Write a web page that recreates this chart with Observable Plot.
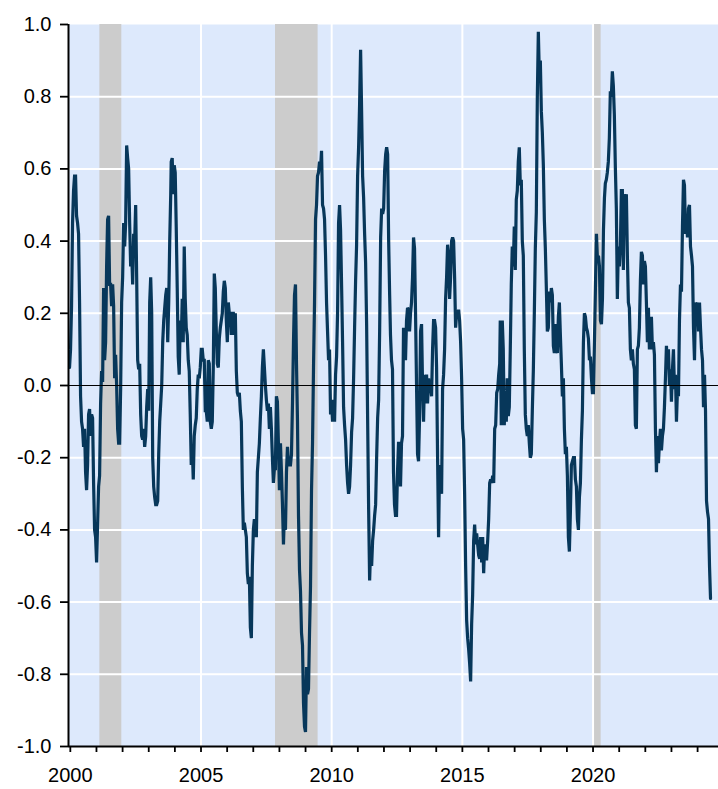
<!DOCTYPE html>
<html>
<head>
<meta charset="utf-8">
<script src="https://cdn.jsdelivr.net/npm/d3@7"></script>
<script src="https://cdn.jsdelivr.net/npm/@observablehq/plot@0.6"></script>
<style>
  html, body { margin: 0; padding: 0; background: #ffffff; }
  #chart svg { display: block; }
</style>
</head>
<body>
<div id="chart"></div>
<script>
// ---- Data (roughly bi-weekly readings) ----
const step = 14 / 365.25; // years between readings
const segmentStarts = [1999.97, 2003.86, 2008.04, 2012.25, 2016.45, 2020.47];

const values2000_2003 = [
  0.05, 0.10, 0.22, 0.45, 0.54, 0.58, 0.58, 0.47, 0.45, 0.42,
  0.23, -0.03, -0.10, -0.12, -0.17, -0.12, -0.24, -0.29, -0.22, -0.08,
  -0.065, -0.14, -0.08, -0.09, -0.27, -0.40, -0.42, -0.49, -0.385, -0.28,
  -0.25, -0.05, 0.04, 0.01, 0.27, 0.07, 0.12, 0.33, 0.46, 0.47,
  0.28, 0.28, 0.22, 0.28, 0.22, 0.02, 0.085, 0.0, -0.12, -0.16,
  -0.16, -0.01, 0.23, 0.30, 0.45, 0.385, 0.45, 0.665, 0.63, 0.60,
  0.45, 0.33, 0.37, 0.28, 0.42, 0.40, 0.50, 0.30, 0.07, 0.045,
  0.06, -0.08, -0.14, -0.15, -0.12, -0.17, -0.14, -0.06, -0.01, -0.07,
  0.23, 0.30, 0.20, -0.20, -0.28, -0.31, -0.33, -0.33, -0.32, -0.19,
  -0.10, -0.05, 0.0, 0.12, 0.18, 0.215, 0.25, 0.27, 0.12, 0.23,
  0.40, 0.53
];
const values2004_2007 = [
  0.62, 0.63, 0.53, 0.61, 0.59, 0.44, 0.27, 0.08, 0.03, 0.18,
  0.12, 0.24, 0.12, 0.385, 0.24, 0.16, 0.14, 0.07, 0.04, -0.08,
  -0.22, -0.17, -0.26, -0.14, -0.11, -0.09, -0.01, 0.03, 0.02, 0.05,
  0.10, 0.10, 0.07, 0.07, -0.07, -0.07, -0.10, 0.07, 0.06, -0.10,
  -0.12, -0.10, 0.05, 0.31, 0.27, 0.15, 0.06, 0.05, 0.13, 0.16,
  0.18, 0.20, 0.26, 0.29, 0.27, 0.18, 0.12, 0.23, 0.20, 0.20,
  0.14, 0.20, 0.20, 0.14, 0.20, 0.04, -0.02, -0.03, -0.02, -0.07,
  -0.10, -0.28, -0.40, -0.38, -0.40, -0.42, -0.52, -0.55, -0.53, -0.67,
  -0.70, -0.50, -0.40, -0.37, -0.39, -0.42, -0.24, -0.20, -0.16, -0.09,
  -0.03, 0.05, 0.10, 0.05, 0.0, -0.04, -0.07, -0.05, -0.12, -0.06,
  -0.12, -0.20, -0.27, -0.23, -0.23, -0.03, -0.045, -0.16, -0.29
];
const values2008_2011 = [
  -0.16, -0.24, -0.33, -0.44, -0.345, -0.40, -0.24, -0.17, -0.22, -0.22,
  -0.22, -0.19, -0.05, 0.12, 0.25, 0.28, 0.06, -0.10, -0.36, -0.51,
  -0.57, -0.685, -0.72, -0.88, -0.945, -0.96, -0.78, -0.855, -0.84, -0.685,
  -0.555, -0.29, -0.16, 0.05, 0.23, 0.46, 0.50, 0.58, 0.59, 0.62,
  0.60, 0.65, 0.50, 0.49, 0.46, 0.36, 0.23, 0.15, 0.07, 0.10,
  -0.08, -0.05, -0.10, -0.04, -0.10, 0.03, 0.08, 0.20, 0.45, 0.50,
  0.43, 0.28, 0.12, -0.06, -0.11, -0.15, -0.22, -0.27, -0.30, -0.28,
  -0.22, -0.13, -0.09, 0.02, 0.16, 0.29, 0.39, 0.58, 0.66, 0.78,
  0.93, 0.76, 0.58, 0.52, 0.42, 0.34, 0.17, -0.09, -0.34, -0.54,
  -0.45, -0.50, -0.43, -0.40, -0.36, -0.33, -0.20, -0.09, -0.04, 0.15,
  0.41, 0.49, 0.475, 0.49, 0.595, 0.64, 0.66, 0.64, 0.40, 0.25
];
const values2012_2016 = [
  0.14, 0.07, 0.045, -0.24, -0.33, -0.36, -0.36, -0.24, -0.16, -0.16,
  -0.28, -0.16, -0.14, 0.16, 0.13, 0.07, 0.18, 0.215, 0.21, 0.15,
  0.20, 0.23, 0.30, 0.41, 0.38, 0.20, 0.0, -0.19, -0.21, -0.09,
  0.15, 0.17, 0.0, -0.10, 0.03, -0.05, 0.03, -0.05, 0.02, -0.02,
  0.0, -0.03, 0.10, 0.18, 0.18, 0.16, 0.05, -0.20, -0.42, -0.22,
  -0.25, -0.30, -0.01, 0.03, 0.10, 0.24, 0.30, 0.39, 0.36, 0.24,
  0.30, 0.40, 0.41, 0.40, 0.30, 0.16, 0.20, 0.19, 0.21, 0.18,
  0.12, 0.02, -0.12, -0.15, -0.30, -0.50, -0.65, -0.70, -0.73, -0.77,
  -0.82, -0.66, -0.58, -0.43, -0.385, -0.44, -0.41, -0.44, -0.47, -0.48,
  -0.42, -0.49, -0.42, -0.52, -0.44, -0.48, -0.48, -0.43, -0.37, -0.27,
  -0.26, -0.27, -0.25, -0.27, -0.12, -0.11, -0.02, -0.01, 0.03, 0.06
];
const values2016_2020 = [
  0.18, -0.11, 0.18, 0.10, -0.11, -0.02, -0.10, 0.02, -0.085, -0.06,
  0.10, 0.28, 0.385, 0.33, 0.44, 0.32, 0.515, 0.54, 0.62, 0.66,
  0.555, 0.57, 0.40, 0.36, 0.10, -0.08, -0.12, -0.14, -0.11, -0.16,
  -0.20, -0.19, -0.07, 0.04, 0.20, 0.38, 0.48, 0.80, 0.98, 0.86,
  0.90, 0.76, 0.70, 0.61, 0.46, 0.38, 0.27, 0.15, 0.16, 0.26,
  0.23, 0.27, 0.25, 0.11, 0.09, 0.17, 0.10, 0.09, 0.19, 0.23,
  0.14, 0.06, -0.03, 0.02, -0.12, -0.19, -0.17, -0.25, -0.42, -0.46,
  -0.35, -0.22, -0.21, -0.20, -0.20, -0.26, -0.28, -0.37, -0.40, -0.31,
  -0.27, -0.15, -0.07, 0.12, 0.20, 0.19, 0.16, 0.15, 0.13, 0.07,
  0.08, 0.02, -0.02, -0.02, 0.12, 0.27, 0.42, 0.35, 0.36, 0.33,
  0.18, 0.17, 0.24, 0.43, 0.52
];
const values2020_2024 = [
  0.56, 0.57, 0.59, 0.62, 0.685, 0.815, 0.80, 0.87, 0.83, 0.75,
  0.605, 0.49, 0.24, 0.385, 0.33, 0.385, 0.54, 0.54, 0.32, 0.53,
  0.515, 0.53, 0.36, 0.23, 0.215, 0.10, 0.07, 0.10, 0.06, 0.045,
  -0.11, -0.12, 0.10, 0.11, 0.16, 0.29, 0.37, 0.36, 0.28, 0.345,
  0.33, 0.23, 0.12, 0.215, 0.10, 0.18, 0.19, 0.10, 0.12, 0.085,
  -0.12, -0.24, -0.14, -0.215, -0.16, -0.12, -0.18, -0.14, -0.12, -0.06,
  0.02, 0.11, 0.045, 0.10, 0.0, 0.045, -0.045, 0.045, 0.10, -0.01,
  0.03, -0.10, -0.01, -0.03, 0.18, 0.28, 0.26, 0.44, 0.57, 0.555,
  0.42, 0.46, 0.41, 0.49, 0.50, 0.385, 0.36, 0.33, 0.16, 0.07,
  0.23, 0.20, 0.23, 0.15, 0.23, 0.16, 0.10, 0.07, -0.06, 0.03,
  -0.07, -0.32, -0.35, -0.37, -0.50, -0.59
];

const recessionStart = [2001.13, 2007.85, 2020.02];
const recessionEnd   = [2001.97, 2009.48, 2020.31];

const yTicks = [-1.0, -0.8, -0.6, -0.4, -0.2, 0.0, 0.2, 0.4, 0.6, 0.8, 1.0];
const xTicks = d3.range(2000, 2025);           // yearly ticks
const xGrid = [2005, 2010, 2015, 2020];
const xDomain = [1999.93, 2024.8];

// ---- Build tables ----
const segments = [values2000_2003, values2004_2007, values2008_2011,
                  values2012_2016, values2016_2020, values2020_2024];
const series = segments.flatMap((vals, k) =>
  vals.map((v, i) => ({year: segmentStarts[k] + i * step, value: v})));
const recessions = recessionStart.map((s, i) => ({start: s, end: recessionEnd[i]}));

const chart = Plot.plot({
  width: 718,
  height: 789,
  marginLeft: 68,
  marginRight: 0,
  marginTop: 24,
  marginBottom: 43,
  style: {fontFamily: "'Liberation Sans', Arial, Helvetica, sans-serif", fontSize: "20px", color: "black", background: "white"},
  x: {type: "linear", domain: xDomain},
  y: {domain: [-1, 1]},
  marks: [
    Plot.frame({fill: "#dde9fc", stroke: null}),
    Plot.rect(recessions, {x1: "start", x2: "end", y1: -1, y2: 1, fill: "#cccccc"}),
    Plot.gridY(yTicks.filter(d => d !== -1 && d !== 0 && d !== 1), {stroke: "white", strokeOpacity: 1, strokeWidth: 2}),
    Plot.gridX(xGrid, {stroke: "white", strokeOpacity: 1, strokeWidth: 2}),
    Plot.line(series, {x: "year", y: "value", stroke: "#07375a", strokeWidth: 3.2, strokeLinejoin: "miter", strokeMiterlimit: 2}),
    Plot.ruleY([0], {stroke: "black", strokeWidth: 1.2}),
    Plot.ruleX([xDomain[0]], {stroke: "black", strokeWidth: 2}),
    Plot.ruleY([-1], {stroke: "black", strokeWidth: 2}),
    Plot.axisY({ticks: yTicks, tickFormat: d => d.toFixed(1), tickSize: 8, tickPadding: 9,
                fontSize: 20, strokeWidth: 1.8, label: null}),
    Plot.axisX({ticks: xTicks, tickFormat: d => (d % 5 === 0 ? String(d) : ""), tickSize: 6,
                tickPadding: 15, fontSize: 20, strokeWidth: 1.8, label: null})
  ]
});
document.getElementById("chart").appendChild(chart);
</script>
</body>
</html>
